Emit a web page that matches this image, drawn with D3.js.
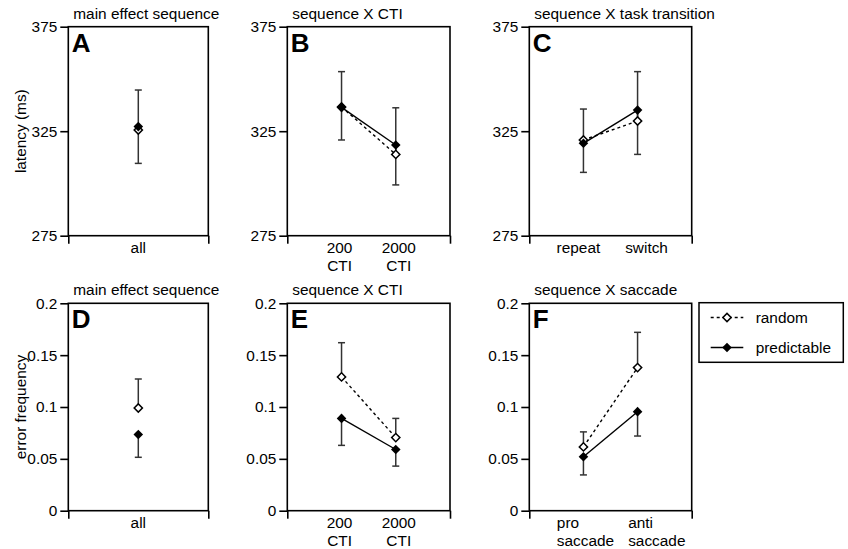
<!DOCTYPE html>
<html>
<head>
<meta charset="utf-8">
<script src="https://cdn.jsdelivr.net/npm/d3@7"></script>
<style>
  body { margin: 0; background: #fff; }
  svg { display: block; font-family: "Liberation Sans", Arial, Helvetica, sans-serif; }
</style>
</head>
<body>
<svg id="chart"></svg>
<script>
// categories
var catsAll = ["all"];
var catsCTI = ["200\nCTI", "2000\nCTI"];
var catsTask = ["repeat", "switch"];
var catsSacc = ["pro\nsaccade", "anti\nsaccade"];

// latency (ms): means + one-sided error bar ends (random up, predictable down)
var latA_random = [325.6], latA_randomErr = [344.7];
var latA_pred = [327.2],   latA_predErr = [309.6];
var latB_random = [336.6, 313.9], latB_randomErr = [353.5, 336.2];
var latB_pred = [336.4, 318.4],   latB_predErr = [320.8, 299.3];
var latC_random = [320.8, 329.9], latC_randomErr = [335.6, 353.5];
var latC_pred = [319.2, 335.1],   latC_predErr = [305.3, 313.9];

// error frequency
var errD_random = [0.099], errD_randomErr = [0.127];
var errD_pred = [0.0735],  errD_predErr = [0.0515];
var errE_random = [0.129, 0.0705], errE_randomErr = [0.162, 0.089];
var errE_pred = [0.089, 0.059],    errE_predErr = [0.063, 0.043];
var errF_random = [0.0615, 0.138], errF_randomErr = [0.076, 0.172];
var errF_pred = [0.052, 0.0955],   errF_predErr = [0.0345, 0.072];

var latTicks = [275, 325, 375];
var errTicks = [0, 0.05, 0.1, 0.15, 0.2];

var W = 848, H = 549;
var FS = 15.4;
var svg = d3.select("#chart").attr("width", W).attr("height", H);

var cols = [[68.3, 208.3], [287.3, 450], [529.3, 691.7]];
var rows = [[26.7, 235.7], [303.3, 510.7]];

// label placement: anchor + shift from the category position
var panels = [
  {col: 0, row: 0, letter: "A", title: "main effect sequence", cats: catsAll, anchor: "middle", dx: [0],
   rnd: latA_random, rndErr: latA_randomErr, prd: latA_pred, prdErr: latA_predErr, ylabel: "latency (ms)"},
  {col: 1, row: 0, letter: "B", title: "sequence X CTI", cats: catsCTI, anchor: "middle", dx: [-2, 3],
   rnd: latB_random, rndErr: latB_randomErr, prd: latB_pred, prdErr: latB_predErr},
  {col: 2, row: 0, letter: "C", title: "sequence X task transition", cats: catsTask, anchor: "middle", dx: [-5, 9],
   rnd: latC_random, rndErr: latC_randomErr, prd: latC_pred, prdErr: latC_predErr},
  {col: 0, row: 1, letter: "D", title: "main effect sequence", cats: catsAll, anchor: "middle", dx: [0],
   rnd: errD_random, rndErr: errD_randomErr, prd: errD_pred, prdErr: errD_predErr, ylabel: "error frequency"},
  {col: 1, row: 1, letter: "E", title: "sequence X CTI", cats: catsCTI, anchor: "middle", dx: [-2, 3],
   rnd: errE_random, rndErr: errE_randomErr, prd: errE_pred, prdErr: errE_predErr},
  {col: 2, row: 1, letter: "F", title: "sequence X saccade", cats: catsSacc, anchor: "start", dx: [-26.6, -9.4],
   rnd: errF_random, rndErr: errF_randomErr, prd: errF_pred, prdErr: errF_predErr}
];

var diamondFill = d3.symbol().type(d3.symbolSquare).size(46);
var diamondOpen = d3.symbol().type(d3.symbolSquare).size(34);

panels.forEach(function(p) {
  var x0 = cols[p.col][0], x1 = cols[p.col][1];
  var y0 = rows[p.row][0], y1 = rows[p.row][1];

  var y = d3.scaleLinear()
    .domain(p.row == 0 ? [275, 375] : [0, 0.2])
    .range([y1, y0]);
  var x = d3.scalePoint().domain(p.cats).range([x0, x1]).padding(1);

  var g = svg.append("g");

  // frame
  g.append("rect")
    .attr("x", x0).attr("y", y0)
    .attr("width", x1 - x0).attr("height", y1 - y0)
    .attr("fill", "none").attr("stroke", "#000").attr("stroke-width", 1.6);

  // y axis
  var yAxis = g.append("g")
    .attr("transform", "translate(" + x0 + ",0)")
    .call(d3.axisLeft(y)
      .tickValues(p.row == 0 ? latTicks : errTicks)
      .tickFormat(p.row == 0 ? d3.format("d") : function(d) { return d == 0 ? "0" : String(+d.toFixed(2)); })
      .tickSize(8).tickPadding(3));
  yAxis.select(".domain").remove();
  yAxis.selectAll("line").attr("stroke-width", 1.6);
  yAxis.selectAll("text").attr("font-size", FS).attr("font-family", null).attr("fill", "#000");

  // x axis end ticks
  var xEnds = d3.scaleLinear().domain([0, 1]).range([x0, x1]);
  var xAxis = g.append("g")
    .attr("transform", "translate(0," + y1 + ")")
    .call(d3.axisBottom(xEnds).tickValues([0, 1]).tickSize(8).tickFormat(""));
  xAxis.select(".domain").remove();
  xAxis.selectAll("line").attr("stroke-width", 1.6);

  // category labels
  p.cats.forEach(function(c, ci) {
    var lines = c.split("\n");
    var lx = x(c) + p.dx[ci];
    var t = g.append("text")
      .attr("text-anchor", p.anchor)
      .attr("font-size", FS)
      .attr("x", lx)
      .attr("y", y1 + 17);
    lines.forEach(function(l, i) {
      t.append("tspan").attr("x", lx).attr("dy", i == 0 ? 0 : 18.5).text(l);
    });
  });

  // title
  g.append("text")
    .attr("x", x0 + 5).attr("y", y0 - 8)
    .attr("font-size", FS)
    .text(p.title);

  // panel letter
  g.append("text")
    .attr("x", x0 + 3.5).attr("y", y0 + 25)
    .attr("font-size", 26).attr("font-weight", "bold")
    .text(p.letter);

  // y label
  if (p.ylabel) {
    g.append("text")
      .attr("transform", "translate(" + 26 + "," + ((y0 + y1) / 2) + ") rotate(-90)")
      .attr("text-anchor", "middle")
      .attr("font-size", FS)
      .text(p.ylabel);
  }

  // error bars
  function errBars(vals, ends) {
    p.cats.forEach(function(c, i) {
      var cx = x(c);
      g.append("line")
        .attr("x1", cx).attr("x2", cx)
        .attr("y1", y(vals[i])).attr("y2", y(ends[i]))
        .attr("stroke", "#333").attr("stroke-width", 1.5);
      g.append("line")
        .attr("x1", cx - 3.5).attr("x2", cx + 3.5)
        .attr("y1", y(ends[i])).attr("y2", y(ends[i]))
        .attr("stroke", "#333").attr("stroke-width", 1.5);
    });
  }
  errBars(p.rnd, p.rndErr);
  errBars(p.prd, p.prdErr);

  var line = d3.line()
    .x(function(d) { return x(d.c); })
    .y(function(d) { return y(d.v); });
  var rndData = p.cats.map(function(c, i) { return {c: c, v: p.rnd[i]}; });
  var prdData = p.cats.map(function(c, i) { return {c: c, v: p.prd[i]}; });

  if (p.cats.length > 1) {
    g.append("path").datum(rndData)
      .attr("d", line).attr("fill", "none")
      .attr("stroke", "#000").attr("stroke-width", 1.4)
      .attr("stroke-dasharray", "3,3");
    g.append("path").datum(prdData)
      .attr("d", line).attr("fill", "none")
      .attr("stroke", "#000").attr("stroke-width", 1.4);
  }

  g.selectAll(".rnd").data(rndData).enter().append("path")
    .attr("class", "rnd")
    .attr("d", diamondOpen)
    .attr("transform", function(d) { return "translate(" + x(d.c) + "," + y(d.v) + ") rotate(45)"; })
    .attr("fill", "#fff").attr("stroke", "#000").attr("stroke-width", 1.5);

  g.selectAll(".prd").data(prdData).enter().append("path")
    .attr("class", "prd")
    .attr("d", diamondFill)
    .attr("transform", function(d) { return "translate(" + x(d.c) + "," + y(d.v) + ") rotate(45)"; })
    .attr("fill", "#000");
});

// legend
var legend = svg.append("g");
legend.append("rect")
  .attr("x", 699).attr("y", 302.7).attr("width", 144.3).attr("height", 59.6)
  .attr("fill", "#fff").attr("stroke", "#000").attr("stroke-width", 1.5);

var legendItems = [
  {label: "random", dash: "3,3", open: true, yy: 317.5},
  {label: "predictable", dash: null, open: false, yy: 347.5}
];
legendItems.forEach(function(it) {
  legend.append("line")
    .attr("x1", 710.7).attr("x2", 743.3)
    .attr("y1", it.yy).attr("y2", it.yy)
    .attr("stroke", "#000").attr("stroke-width", 1.4)
    .attr("stroke-dasharray", it.dash);
  legend.append("path")
    .attr("d", it.open ? diamondOpen : diamondFill)
    .attr("transform", "translate(727," + it.yy + ") rotate(45)")
    .attr("fill", it.open ? "#fff" : "#000")
    .attr("stroke", it.open ? "#000" : null)
    .attr("stroke-width", 1.5);
  legend.append("text")
    .attr("x", 755.7).attr("y", it.yy + 5.3)
    .attr("font-size", FS)
    .text(it.label);
});
</script>
</body>
</html>
